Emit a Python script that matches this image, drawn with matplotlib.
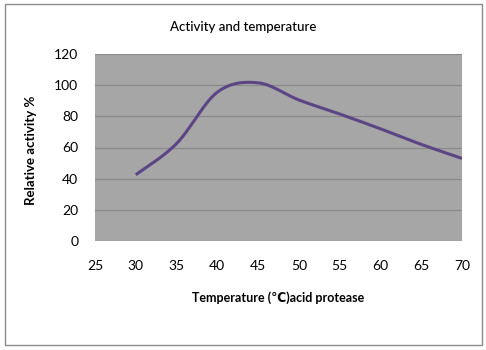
import numpy as np
import matplotlib
matplotlib.use("Agg")
import matplotlib.pyplot as plt
from matplotlib.patches import Rectangle

plt.rcParams['font.family'] = ['Lato', 'DejaVu Sans']

temperature = [30, 35, 40, 45, 50, 55, 60, 65, 70]
activity = [42.5, 62.5, 95.5, 101.5, 90.5, 81.5, 72, 62, 53]
x_ticks = [25, 30, 35, 40, 45, 50, 55, 60, 65, 70]
y_ticks = [0, 20, 40, 60, 80, 100, 120]


def smooth(xs, ys, n=30):
    # Catmull-Rom curve through the points, like Excel's smoothed line
    px = np.array([xs[0]] + list(xs) + [xs[-1]], dtype=float)
    py = np.array([ys[0]] + list(ys) + [ys[-1]], dtype=float)
    out_x, out_y = [], []
    t = np.linspace(0, 1, n)
    for i in range(1, len(px) - 2):
        for p, out in ((px, out_x), (py, out_y)):
            p0, p1, p2, p3 = p[i - 1], p[i], p[i + 1], p[i + 2]
            seg = 0.5 * ((2 * p1) + (-p0 + p2) * t
                         + (2 * p0 - 5 * p1 + 4 * p2 - p3) * t ** 2
                         + (-p0 + 3 * p1 - 3 * p2 + p3) * t ** 3)
            out.extend(seg)
    return out_x, out_y


fig = plt.figure(figsize=(4.86, 3.5), dpi=100)
fig.patches.append(Rectangle((5 / 486, 5 / 350), 477 / 486, 341 / 350,
                             transform=fig.transFigure, fill=False,
                             edgecolor='#8c8c8c', linewidth=1))

ax = fig.add_axes([95 / 486, 1 - 241 / 350, 367 / 486, 187 / 350])
ax.set_facecolor('#a6a6a6')
ax.set_xlim(25, 70)
ax.set_ylim(0, 120)
ax.set_xticks(x_ticks)
ax.set_yticks(y_ticks)
ax.grid(axis='y', color='#8a8a8a', linewidth=0.9)
ax.set_axisbelow(True)
for s in ax.spines.values():
    s.set_visible(False)
ax.tick_params(length=0, labelsize=10, colors='#000000')
ax.tick_params(axis='x', pad=14)
ax.tick_params(axis='y', pad=12)

sx, sy = smooth(temperature, activity)
ax.plot(sx, sy, color='#5c4585', linewidth=2.2, solid_capstyle='butt')

fig.text(0.5, 1 - 27 / 350, 'Activity and temperature', ha='center',
         va='center', fontsize=9.5, fontweight='medium')
fig.text(278 / 486, 1 - 298 / 350, 'Temperature (\u2103)acid protease',
         ha='center', va='center', fontsize=9, fontweight='bold')
fig.text(31 / 486, 1 - 150 / 350, 'Relative activity %', ha='center',
         va='center', rotation=90, fontsize=9.5, fontweight='bold')

fig.savefig('out.png', dpi=100)
